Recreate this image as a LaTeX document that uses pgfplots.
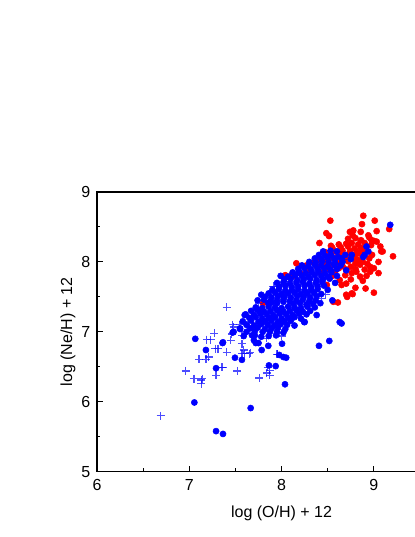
\documentclass[border=0pt]{standalone}
\usepackage{fontspec}
\setmainfont{Liberation Sans}
\usepackage{pgfplots}
\pgfplotsset{compat=1.18}
\definecolor{pblue}{RGB}{0,0,255}
\definecolor{pred}{RGB}{255,0,0}
\begin{document}
\begin{tikzpicture}
\begin{axis}[
  at={(0,0)}, anchor=south west,
  scale only axis, width=276.9pt, height=209.8pt,
  xmin=6, xmax=10, ymin=5, ymax=9,
  xtick={6,7,8,9}, ytick={5,6,7,8,9},
  minor xtick={6.5,7.5,8.5,9.5}, minor ytick={5.5,6.5,7.5,8.5},
  xtick pos=bottom, ytick pos=left,
  tick align=inside,
  major tick length=4.5pt, minor tick length=2.5pt,
  axis line style={line width=0.8pt}, tick style={line width=0.8pt, black},
  /pgf/number format/assume math mode=true,
  tick label style={font=\fontsize{12}{14}\selectfont},
  label style={font=\fontsize{12}{14}\selectfont},
  xticklabel style={yshift=-2pt},
  yticklabel style={xshift=-1.5pt},
  xlabel={log (O/H) + 12},
  ylabel={log (Ne/H) + 12},
  xlabel style={at={(axis description cs:0.5,0)}, anchor=north, yshift=-22pt},
  ylabel style={at={(axis description cs:0,0.5)}, rotate=0, anchor=south, yshift=12.7pt},
]
% red circles
\addplot[only marks, mark=*, mark size=2.3pt, color=pred] coordinates {
(8.885,8.66) (8.528,8.59) (9.009,8.59) (8.871,8.54) (8.777,8.45) (8.857,8.43) (8.77,8.38)
(9.03,8.44) (8.485,8.41) (8.514,8.37) (9.166,8.47) (8.41,8.27) (8.74,8.43) (8.94,8.38)
(8.975,8.31) (9.03,8.29) (9.08,8.15) (9.095,8.15) (9.207,8.08) (8.535,8.23)
(8.72,8.33) (8.80,8.34) (8.86,8.31) (8.95,8.35) (9.00,8.30)
(8.62,8.25) (8.70,8.26) (8.76,8.27) (8.83,8.25) (8.90,8.27) (8.97,8.24)
(8.55,8.20) (8.64,8.21) (8.72,8.22) (8.79,8.19) (8.86,8.20) (9.07,8.22)
(8.58,8.15) (8.66,8.16) (8.74,8.15) (8.82,8.14) (8.88,8.16)
(8.52,8.10) (8.62,8.11) (8.71,8.09) (8.80,8.10) (8.85,8.12) (8.98,8.10)
(8.56,8.05) (8.68,8.04) (8.78,8.06) (8.83,8.03) (8.95,8.05)
(8.48,8.00) (8.60,7.99) (8.72,8.01) (8.80,7.98) (8.88,8.00) (8.93,7.97) (9.05,8.00)
(8.16,7.98) (8.27,7.95) (8.38,7.94) (8.45,7.96) (8.55,7.95) (8.66,7.94) (8.75,7.93) (8.85,7.96) (8.96,7.93)
(8.31,7.88) (8.50,7.90) (8.62,7.91) (8.70,7.89) (8.80,7.90) (8.90,7.89) (9.00,7.91)
(8.20,7.84) (8.42,7.85) (8.58,7.86) (8.76,7.84) (8.81,7.86) (8.96,7.86) (9.05,7.84)
(8.04,7.81) (8.11,7.81) (8.13,7.80) (8.55,7.80) (8.69,7.81) (8.85,7.79) (8.92,7.80)
(8.63,7.74) (8.75,7.75) (8.88,7.73) (8.49,7.67) (8.65,7.67) (8.70,7.69)
(8.91,7.62) (8.80,7.63) (8.70,7.53) (8.77,7.54) (9.00,7.56) (8.76,7.55) (8.71,7.50)
(8.56,7.43) (8.61,7.42) (7.80,7.41) (8.47,8.14) (8.40,8.03) (8.35,7.99)
};
% blue circles
\addplot[only marks, mark=*, mark size=2.3pt, color=pblue] coordinates {
(7.065,6.90) (7.18,6.74) (7.365,6.85) (7.29,6.48) (7.055,5.99) (7.29,5.58) (7.365,5.54)
(7.47,6.99) (7.55,7.04) (7.495,6.63) (7.57,6.60) (7.60,7.24)
(8.405,6.80) (8.517,6.87) (8.037,6.25) (7.665,5.91) (8.005,6.83) (7.856,6.80) (7.784,6.74)
(7.863,6.52) (7.936,6.51) (7.975,6.67) (8.019,6.64) (8.05,6.63) (7.71,6.95) (7.72,6.84)
(7.75,6.84) (7.795,7.00) (7.874,7.00) (7.36,6.84) (7.70,6.88) (8.65,7.12) (8.25,7.14)
(7.48,7.00) (7.55,7.05) (9.177,8.53)
(8.45,8.15) (8.53,8.16) (8.60,8.15) (8.94,8.15) (8.92,8.22)
(8.405,8.10) (8.47,8.09) (8.535,8.10) (8.61,8.07) (8.69,8.10) (8.76,8.10) (8.90,8.10)
(8.36,8.05) (8.43,8.04) (8.50,8.06) (8.57,8.05) (8.65,8.05) (8.75,8.04) (8.885,8.07)
(8.30,8.00) (8.37,7.99) (8.44,8.01) (8.51,8.00) (8.58,7.99) (8.66,8.00)
(8.22,7.95) (8.29,7.94) (8.36,7.96) (8.43,7.95) (8.50,7.94) (8.57,7.96) (8.64,7.95)
(8.18,7.90) (8.25,7.91) (8.32,7.89) (8.39,7.90) (8.46,7.91) (8.53,7.89) (8.60,7.90) (8.70,7.88)
(8.12,7.85) (8.19,7.86) (8.26,7.84) (8.33,7.85) (8.40,7.86) (8.47,7.84) (8.54,7.85)
(7.99,7.80) (8.07,7.79) (8.15,7.81) (8.22,7.80) (8.29,7.79) (8.36,7.81) (8.43,7.80) (8.50,7.79) (8.60,7.80)
(8.03,7.75) (8.10,7.76) (8.17,7.74) (8.24,7.75) (8.31,7.76) (8.38,7.74) (8.45,7.75) (8.52,7.76)
(7.95,7.70) (8.02,7.71) (8.09,7.69) (8.16,7.70) (8.23,7.71) (8.30,7.69) (8.37,7.70) (8.44,7.71) (8.58,7.70)
(7.975,7.65) (8.04,7.66) (8.11,7.64) (8.18,7.65) (8.25,7.66) (8.32,7.64) (8.39,7.65) (8.46,7.66)
(7.90,7.60) (7.97,7.61) (8.04,7.59) (8.11,7.60) (8.18,7.61) (8.25,7.59) (8.32,7.60) (8.39,7.61) (8.50,7.60)
(7.78,7.53) (7.86,7.55) (7.93,7.56) (8.00,7.54) (8.07,7.55) (8.14,7.56) (8.21,7.54) (8.28,7.55) (8.35,7.56) (8.43,7.54)
(7.82,7.50) (7.89,7.49) (7.96,7.51) (8.03,7.50) (8.10,7.49) (8.17,7.51) (8.24,7.50) (8.31,7.49) (8.38,7.51)
(7.74,7.45) (7.81,7.46) (7.88,7.44) (7.95,7.45) (8.02,7.46) (8.09,7.44) (8.16,7.45) (8.23,7.46) (8.30,7.44) (8.37,7.45) (8.55,7.45)
(7.856,7.41) (7.89,7.42) (7.95,7.41) (8.02,7.43) (8.07,7.36) (8.13,7.40) (8.20,7.41) (8.27,7.39) (8.34,7.40) (8.42,7.41)
(7.72,7.35) (7.79,7.34) (7.86,7.36) (7.93,7.35) (8.00,7.34) (8.14,7.35) (8.21,7.34) (8.28,7.36) (8.36,7.35)
(7.67,7.30) (7.74,7.31) (7.81,7.29) (7.88,7.30) (7.95,7.31) (8.02,7.29) (8.09,7.30) (8.16,7.31) (8.23,7.29) (8.31,7.30)
(7.61,7.25) (7.70,7.24) (7.77,7.26) (7.84,7.25) (7.91,7.24) (7.98,7.26) (8.05,7.25) (8.12,7.24) (8.19,7.26) (8.27,7.25) (8.38,7.24)
(7.65,7.20) (7.72,7.21) (7.79,7.19) (7.86,7.20) (7.93,7.21) (8.00,7.19) (8.07,7.20) (8.14,7.21) (8.21,7.19)
(7.58,7.15) (7.67,7.16) (7.75,7.14) (7.82,7.15) (7.89,7.16) (7.96,7.14) (8.03,7.15) (8.10,7.16) (8.245,7.14)
(7.62,7.10) (7.70,7.09) (7.78,7.11) (7.85,7.10) (7.92,7.09) (7.99,7.11) (8.06,7.10) (8.14,7.09)
(7.66,7.05) (7.74,7.06) (7.82,7.04) (7.89,7.05) (7.96,7.06) (8.04,7.04)
(7.62,7.00) (7.71,7.01) (7.95,7.00) (8.02,6.99)
(7.59,6.94) (7.68,6.95) (7.78,6.93) (7.86,6.94) (7.94,6.95)
(8.63,7.14)
};
% blue crosses
\addplot[only marks, mark=+, mark size=3pt, color=pblue, mark options={line width=0.9pt, opacity=0.7}] coordinates {
(7.405,7.35) (7.27,6.98) (7.23,6.89) (7.31,6.76) (7.405,6.71) (7.105,6.61) (7.18,6.61)
(7.36,6.49) (7.29,6.38) (6.96,6.44) (7.05,6.33) (7.14,6.33) (7.13,6.26) (7.52,6.44)
(6.69,5.80) (7.45,6.88) (7.47,7.10) (7.57,6.83) (7.57,6.69)
(7.76,6.34) (7.87,6.38) (7.85,6.49) (7.59,6.74) (7.65,6.69) (7.95,6.68) (7.69,6.98)
(7.84,6.91) (7.98,6.98) (7.46,6.97) (7.57,6.95) (8.00,6.94) (7.19,6.89) (7.28,6.76)
(7.21,6.64) (7.60,6.69) (7.66,6.70) (7.96,6.68) (7.84,6.41) (7.87,6.45) (7.13,6.31)
(7.35,6.49) (7.48,7.07) (7.55,7.10) (7.96,7.03) (8.055,7.12)
(7.92,7.65) (8.43,7.48) (8.48,7.53) (8.09,7.72) (8.67,8.04) (7.71,7.26) (7.91,7.65)
(7.80,7.25) (7.75,7.40) (8.15,7.30) (8.00,7.50) (7.85,7.15) (8.25,7.60) (8.10,7.40)
(7.65,7.15) (8.30,7.85)
};
\end{axis}
\pgfresetboundingbox
\path[use as bounding box] (-72.75pt,-48.98pt) rectangle (238.5pt,353.78pt);
\end{tikzpicture}
\end{document}
